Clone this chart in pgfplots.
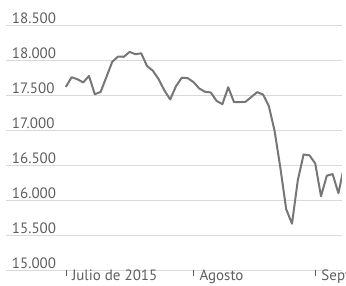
\documentclass[border=0pt]{standalone}
\usepackage{fontspec}
\setmainfont{PT Sans}
\usepackage{pgfplots}
\pgfplotsset{compat=1.18}
\definecolor{txt}{HTML}{5E5E5E}
\definecolor{ln}{HTML}{767676}
\definecolor{grd}{HTML}{D9D9D9}
\begin{document}
\begin{tikzpicture}[x=1pt,y=1pt]
\useasboundingbox (0,0) rectangle (346,285);
\begin{axis}[
  at={(10,21)}, anchor=south west,
  scale only axis, width=336pt, height=245pt,
  xmin=-10.345, xmax=47.586, ymin=15000, ymax=18500,
  axis line style={draw=none},
  ymajorgrids, grid style={grd, line width=0.8pt},
  scaled y ticks=false,
  ytick={15000,15500,16000,16500,17000,17500,18000,18500},
  yticklabels={15.000,15.500,16.000,16.500,17.000,17.500,18.000,18.500},
  ytick style={draw=none},
  yticklabel style={anchor=base west, inner sep=0pt, xshift=12pt, yshift=2pt, font=\fontsize{15}{17}\selectfont, text=txt},
  xtick={0.086,22.07,43.1},
  xtick pos=bottom,
  xticklabels={Julio de 2015,Agosto,Septiembre},
  tick align=outside, major tick length=6pt,
  xtick style={draw=txt, line width=0.8pt},
  xticklabel style={anchor=base west, inner sep=0pt, xshift=5.5pt, yshift=-4.5pt, font=\fontsize{15}{17}\selectfont, text=txt},
  clip=true,
]
\addplot[ln, line width=2pt, line join=round, mark=none] coordinates {
(0,17619.51) (1,17757.91) (2,17730.11) (3,17683.58) (4,17776.91) (5,17515.42)
(6,17548.62) (7,17760.41) (8,17977.68) (9,18053.58) (10,18050.17) (11,18120.25)
(12,18086.45) (13,18100.41) (14,17919.29) (15,17851.04) (16,17731.92) (17,17568.53)
(18,17440.59) (19,17630.27) (20,17751.39) (21,17745.98) (22,17689.86) (23,17598.20)
(24,17550.69) (25,17540.47) (26,17419.75) (27,17373.38) (28,17615.17) (29,17402.84)
(30,17402.51) (31,17408.25) (32,17477.40) (33,17545.18) (34,17511.34) (35,17348.73)
(36,16990.69) (37,16459.75) (38,15871.35) (39,15666.44) (40,16285.51) (41,16654.77)
(42,16643.01) (43,16528.03) (44,16058.35) (45,16351.38) (46,16374.76) (47,16102.38)
(48,16492.68)
};
\end{axis}
\end{tikzpicture}
\end{document}
